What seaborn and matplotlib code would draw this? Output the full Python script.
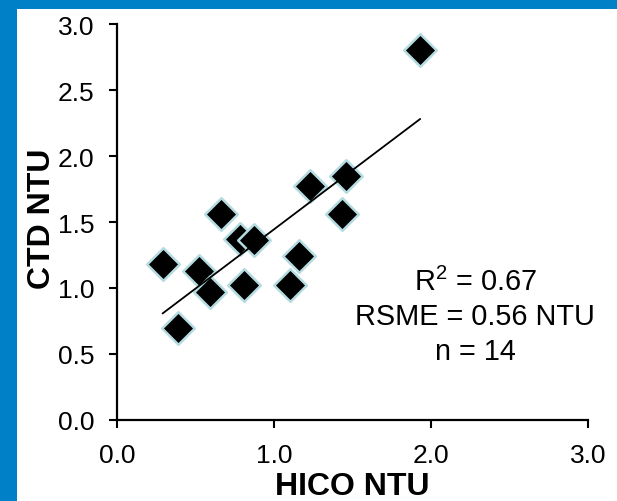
import matplotlib
matplotlib.use("Agg")
import matplotlib.pyplot as plt
import seaborn as sns
import pandas as pd
from matplotlib.patches import Rectangle

# Data
hico_ntu = [1.93, 0.29, 0.39, 0.52, 0.59, 0.66, 0.78, 0.87, 0.81, 1.10, 1.16, 1.23, 1.43, 1.46]
ctd_ntu = [2.80, 1.18, 0.70, 1.13, 0.97, 1.56, 1.37, 1.36, 1.02, 1.02, 1.24, 1.77, 1.56, 1.85]
x_ticks = [0.0, 1.0, 2.0, 3.0]
y_ticks = [0.0, 0.5, 1.0, 1.5, 2.0, 2.5, 3.0]
stats_lines = ["R$^2$ = 0.67", "RSME = 0.56 NTU", "n = 14"]

df = pd.DataFrame({"HICO": hico_ntu, "CTD": ctd_ntu})

sns.set_theme(style="white")
plt.rcParams['font.family'] = ['Liberation Sans', 'DejaVu Sans']
plt.rcParams['mathtext.fontset'] = 'custom'
plt.rcParams['mathtext.rm'] = 'Liberation Sans'

fig = plt.figure(figsize=(6.17, 5.02), dpi=100)
fig.patch.set_facecolor("#0080c6")
# white panel
fig.patches.append(Rectangle((17 / 617, 0), 1 - 17 / 617, (502 - 10) / 502,
                             transform=fig.transFigure, facecolor="white",
                             edgecolor="none", zorder=-10))

ax = fig.add_axes([117 / 617, (502 - 421) / 502, (588.3 - 117) / 617, (421 - 25) / 502])
ax.set_facecolor("none")
ax.set_zorder(5)

sns.regplot(data=df, x="HICO", y="CTD", ax=ax, ci=None, scatter=False,
            truncate=True, line_kws=dict(color="black", lw=1.3, zorder=3))
sns.scatterplot(data=df, x="HICO", y="CTD", ax=ax, marker="D", s=275,
                color="black", edgecolor="#b4dce0", linewidth=1.8, zorder=2)

ax.set_xlim(0, 3)
ax.set_ylim(0, 3)
ax.set_xticks(x_ticks)
ax.set_yticks(y_ticks)
ax.set_xticklabels([f"{v:.1f}" for v in x_ticks])
ax.set_yticklabels([f"{v:.1f}" for v in y_ticks])
for s in ["top", "right"]:
    ax.spines[s].set_visible(False)
for s in ["left", "bottom"]:
    ax.spines[s].set_color("black")
    ax.spines[s].set_linewidth(1.6)
ax.tick_params(axis="both", direction="out", length=6, width=1.5, color="black",
               labelsize=19, labelcolor="black", left=True, bottom=True)
ax.tick_params(axis="x", pad=10.5)
ax.tick_params(axis="y", pad=10.5)

ax.set_xlabel("HICO NTU", fontsize=23, fontweight="bold", color="black")
ax.set_ylabel("CTD NTU", fontsize=23, fontweight="bold", color="black")
ax.xaxis.set_label_coords(0.5, -0.128)
ax.yaxis.set_label_coords(-0.128, 0.51)

for txt, yv in zip(stats_lines, [0.985, 0.727, 0.462]):
    ax.text(2.279, yv, txt, ha="center", va="baseline", fontsize=20.8, color="black")

fig.savefig("out.png", dpi=100, facecolor=fig.get_facecolor())
